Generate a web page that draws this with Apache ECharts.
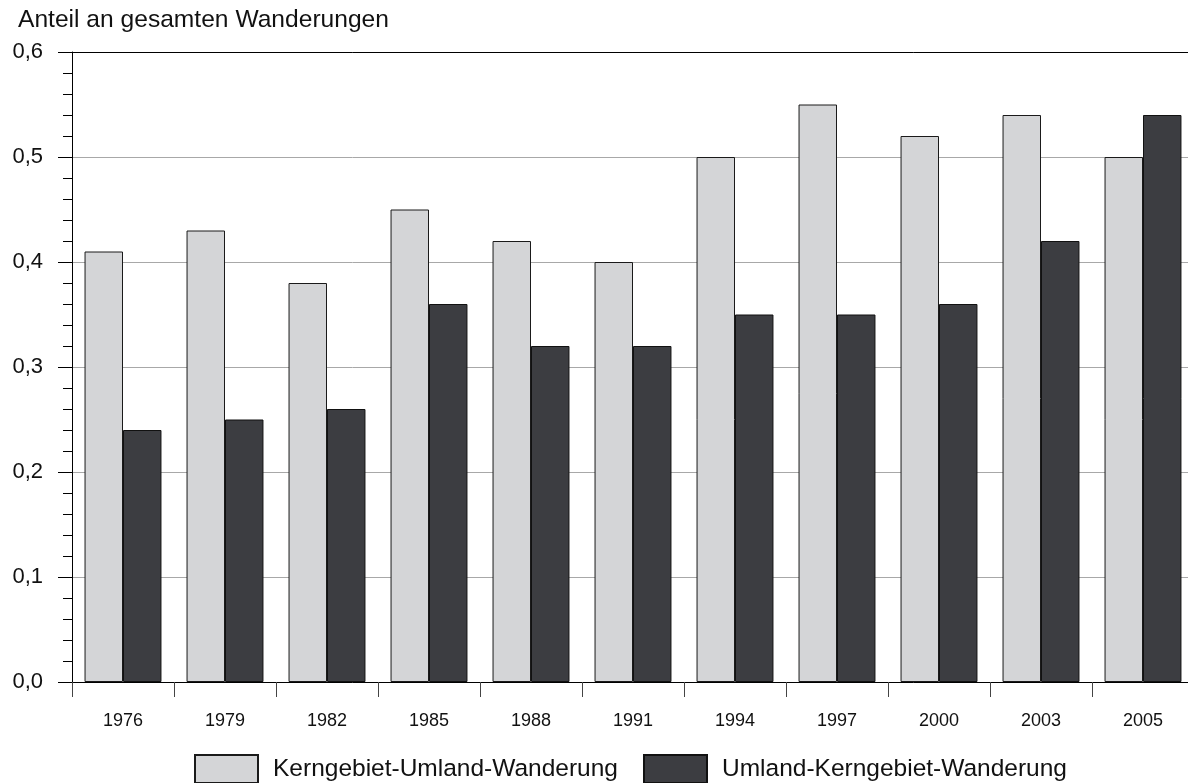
<!DOCTYPE html>
<html>
<head>
<meta charset="utf-8">
<script src="https://cdn.jsdelivr.net/npm/echarts@6/dist/echarts.min.js"></script>
<style>
  html, body { margin: 0; padding: 0; background: #fff; overflow: hidden; }
  /* the plot area continues a few pixels past the right edge of the window */
  #chart { width: 1194px; height: 783px; }
</style>
</head>
<body>
<div id="chart"></div>
<script>
// Years shown on the category axis
const years = ['1976', '1979', '1982', '1985', '1988', '1991', '1994', '1997', '2000', '2003', '2005'];
// Share of total migration, core area -> surrounding area
const kernUmland = [0.41, 0.43, 0.38, 0.45, 0.42, 0.40, 0.50, 0.55, 0.52, 0.54, 0.50];
// Share of total migration, surrounding area -> core area
const umlandKern = [0.24, 0.25, 0.26, 0.36, 0.32, 0.32, 0.35, 0.35, 0.36, 0.42, 0.54];
const seriesNames = ['Kerngebiet-Umland-Wanderung', 'Umland-Kerngebiet-Wanderung'];
const axisTitle = 'Anteil an gesamten Wanderungen';

const FONT = 'Arial, "Liberation Sans", sans-serif';

const chart = echarts.init(document.getElementById('chart'), null, { renderer: 'canvas' });

chart.setOption({
  animation: false,
  backgroundColor: '#ffffff',
  textStyle: { fontFamily: FONT, color: '#111' },
  title: {
    text: axisTitle,
    left: 18,
    top: 8,
    padding: 0,
    textStyle: { fontFamily: FONT, fontSize: 24.6, fontWeight: 'normal', color: '#111' }
  },
  legend: {
    data: seriesNames,
    left: 194,
    top: 754,
    padding: 0,
    itemWidth: 63,
    itemHeight: 28,
    itemGap: 25,
    icon: 'rect',
    textStyle: { fontFamily: FONT, fontSize: 24.5, color: '#111', padding: [0, 0, 0, 10] }
  },
  grid: { left: 72, right: 0, top: 52, bottom: 101, containLabel: false },
  xAxis: [
    {
      type: 'category',
      data: years,
      position: 'bottom',
      axisLine: { lineStyle: { color: '#000', width: 1 } },
      axisTick: { show: true, length: 15, lineStyle: { color: '#444' } },
      axisLabel: { margin: 30, fontFamily: FONT, fontSize: 18, color: '#111' },
      splitLine: { show: false }
    },
    {
      // top frame line at 0,6
      type: 'category',
      data: years,
      position: 'top',
      axisLine: { show: true, lineStyle: { color: '#000', width: 1 } },
      axisTick: { show: false },
      axisLabel: { show: false },
      splitLine: { show: false }
    }
  ],
  yAxis: {
    type: 'value',
    min: 0,
    max: 0.6,
    interval: 0.1,
    axisLine: { show: true, lineStyle: { color: '#000', width: 1 } },
    axisTick: { show: true, length: 14, lineStyle: { color: '#000' } },
    minorTick: { show: true, splitNumber: 5, length: 9, lineStyle: { color: '#000' } },
    axisLabel: {
      margin: 29,
      fontFamily: FONT,
      fontSize: 22,
      color: '#111',
      formatter: v => v.toFixed(1).replace('.', ',')
    },
    splitLine: { show: true, lineStyle: { color: '#a8a8a8', width: 1 } }
  },
  series: [
    {
      name: seriesNames[0],
      type: 'bar',
      data: kernUmland,
      barWidth: '37.7%',
      barGap: '0%',
      itemStyle: { color: '#d4d5d7', borderColor: '#1a1a1a', borderWidth: 1 }
    },
    {
      name: seriesNames[1],
      type: 'bar',
      data: umlandKern,
      barWidth: '37.7%',
      barGap: '0%',
      itemStyle: { color: '#3c3d41', borderColor: '#111', borderWidth: 1 }
    }
  ]
});
</script>
</body>
</html>
